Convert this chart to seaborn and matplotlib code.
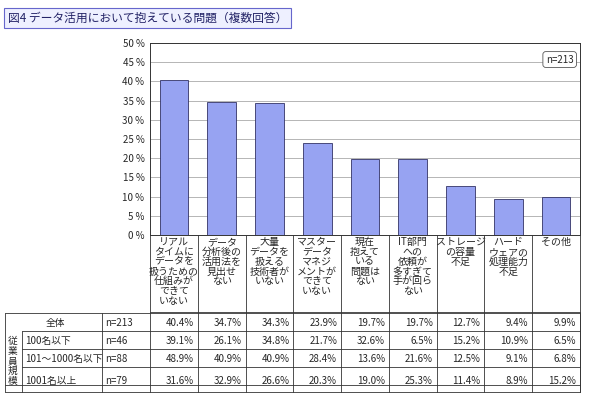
import matplotlib
matplotlib.use("Agg")
import matplotlib.pyplot as plt
import seaborn as sns
import pandas as pd

categories = ["リアル\nタイムに\nデータを\n扱うための\n仕組みが\nできて\nいない",
              "データ\n分析後の\n活用法を\n見出せ\nない",
              "大量\nデータを\n扱える\n技術者が\nいない",
              "マスター\nデータ\nマネジ\nメントが\nできて\nいない",
              "現在\n抱えて\nいる\n問題は\nない",
              "IT部門\nへの\n依頼が\n多すぎて\n手が回ら\nない",
              "ストレージ\nの容量\n不足",
              "ハード\nウェアの\n処理能力\n不足",
              "その他"]
row_labels = ["全体", "100名以下", "101～1000名以下", "1001名以上"]
row_n = ["n=213", "n=46", "n=88", "n=79"]
total = [40.4, 34.7, 34.3, 23.9, 19.7, 19.7, 12.7, 9.4, 9.9]
small = [39.1, 26.1, 34.8, 21.7, 32.6, 6.5, 15.2, 10.9, 6.5]
mid = [48.9, 40.9, 40.9, 28.4, 13.6, 21.6, 12.5, 9.1, 6.8]
large = [31.6, 32.9, 26.6, 20.3, 19.0, 25.3, 11.4, 8.9, 15.2]
yticks = [0, 5, 10, 15, 20, 25, 30, 35, 40, 45, 50]

sns.set_style("white")
plt.rcParams['font.family'] = ['Noto Sans CJK JP', 'DejaVu Sans']

W, H = 590, 400
fig = plt.figure(figsize=(5.9, 4.0), dpi=100)
L, R, T, B = 150, 580, 43, 235
ax = fig.add_axes([L / W, 1 - B / H, (R - L) / W, (B - T) / H])
df = pd.DataFrame({"cat": categories, "v": total})
sns.barplot(data=df, x="cat", y="v", ax=ax, color="#97a3f2", edgecolor="#333366",
            linewidth=0.6, width=0.6, saturation=1)
ax.set_ylim(0, 50)
ax.set_yticks(yticks)
ax.set_yticklabels([f"{t} %" for t in yticks], fontsize=7)
ax.yaxis.grid(True, color="#aaaaaa", linewidth=0.6)
ax.set_axisbelow(True)
ax.set_xlabel(""); ax.set_ylabel("")
ax.set_xticklabels([])
ax.tick_params(axis="x", length=0)
ax.tick_params(axis="y", length=2, pad=2)
for s in ax.spines.values():
    s.set_color("#333333"); s.set_linewidth(0.7)
ax.text(0.985, 0.94, "n=213", transform=ax.transAxes, ha="right", va="top", fontsize=7,
        bbox=dict(boxstyle="round,pad=0.3", fc="white", ec="#555555", lw=0.6))

fig.text(8 / W, 1 - 18 / H, "図4 データ活用において抱えている問題（複数回答）", fontsize=8.5,
         color="#222266", va="center",
         bbox=dict(boxstyle="square,pad=0.3", fc="#eef0ff", ec="#6666cc", lw=0.8))

tx = fig.add_axes([0, 0, 1, 1], facecolor="none")
tx.set_xlim(0, W); tx.set_ylim(H, 0); tx.axis("off")
cw = (R - L) / 9
lc = dict(color="#333333", lw=0.6)
tx.plot([L, R], [312, 312], **lc)
for i in range(10):
    tx.plot([L + i * cw] * 2, [B, 392], **lc)
for i, c in enumerate(categories):
    tx.text(L + (i + 0.5) * cw, B + 2, c, ha="center", va="top", fontsize=7.2, linespacing=0.98)
rows_y = [313, 331, 349, 367, 385]
for y in rows_y[1:]:
    tx.plot([22 if y < 385 else 5, R], [y, y], **lc)
tx.plot([5, R], [313, 313], **lc)
tx.plot([5, R], [392, 392], **lc)
tx.plot([5, 5], [313, 392], **lc)
tx.plot([22, 22], [331, 392], **lc)
tx.plot([102, 102], [313, 392], **lc)
tx.plot([R, R], [313, 392], **lc)
data = [total, small, mid, large]
for r in range(4):
    yc = (rows_y[r] + (rows_y[r + 1] if r < 3 else 392)) / 2 + 1
    if r == 0:
        tx.text(55, yc, row_labels[r], ha="center", va="center", fontsize=7)
    else:
        tx.text(25, yc, row_labels[r], ha="left", va="center", fontsize=7)
    tx.text(105, yc, row_n[r], ha="left", va="center", fontsize=7)
    for i, v in enumerate(data[r]):
        tx.text(L + (i + 1) * cw - 4, yc, f"{v:.1f}%", ha="right", va="center", fontsize=7)
tx.text(13, 361, "従\n業\n員\n規\n模", ha="center", va="center", fontsize=7, linespacing=1.0)

fig.savefig("out.png", dpi=100)
